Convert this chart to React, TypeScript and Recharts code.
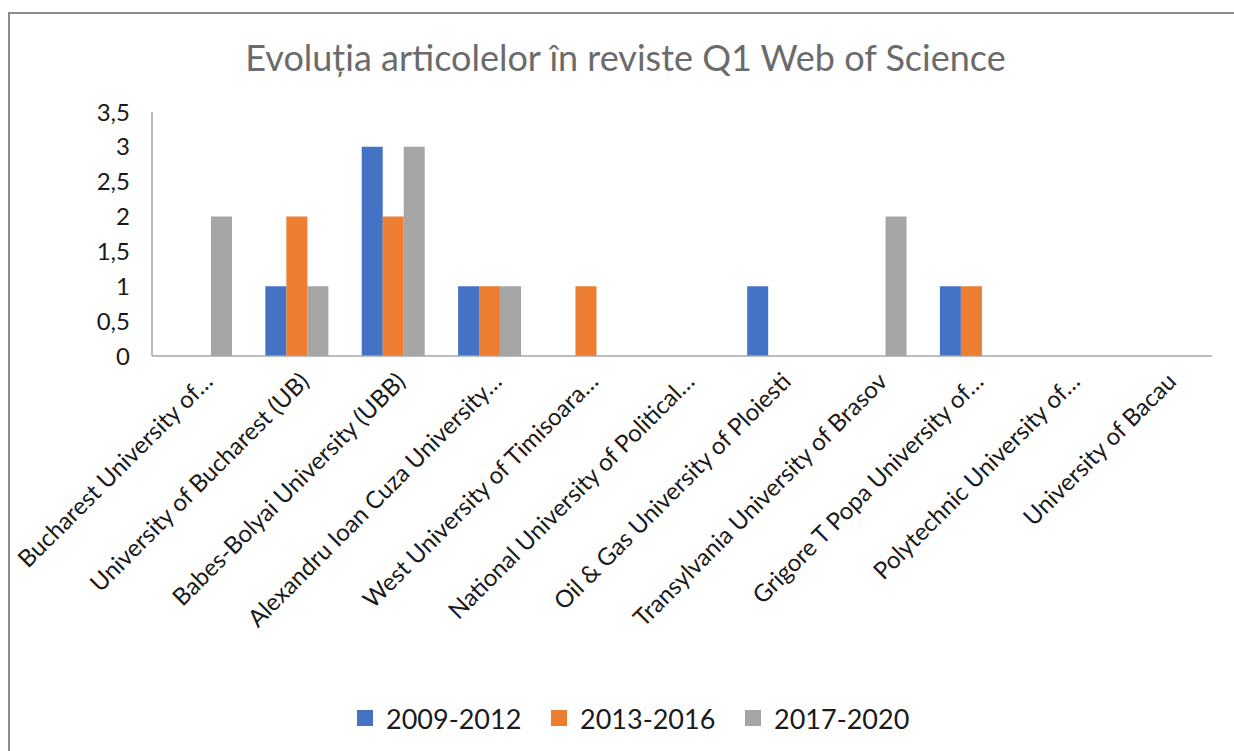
import React from "react";
import { BarChart, Bar, XAxis, YAxis } from "recharts";

const categories = [
  "Bucharest University of…",
  "University of Bucharest (UB)",
  "Babes-Bolyai University (UBB)",
  "Alexandru Ioan Cuza University…",
  "West University of Timisoara…",
  "National University of Political…",
  "Oil & Gas University of Ploiesti",
  "Transylvania University of Brasov",
  "Grigore T Popa University of…",
  "Polytechnic University of…",
  "University of Bacau",
];

const series2009_2012 = [0, 1, 3, 1, 0, 0, 1, 0, 1, 0, 0];
const series2013_2016 = [0, 2, 2, 1, 1, 0, 0, 0, 1, 0, 0];
const series2017_2020 = [2, 1, 3, 1, 0, 0, 0, 2, 0, 0, 0];

const seriesNames = ["2009-2012", "2013-2016", "2017-2020"];
const seriesColors = ["#4472C4", "#ED7D31", "#A5A5A5"];
const yTicks = [0, 0.5, 1, 1.5, 2, 2.5, 3, 3.5];
const title = "Evoluția articolelor în reviste Q1 Web of Science";

const data = categories.map((name, i) => ({
  name,
  s0: series2009_2012[i],
  s1: series2013_2016[i],
  s2: series2017_2020[i],
}));

const FONT = "Lato, 'Open Sans', sans-serif";

const XTick = (props: any) => {
  const { x, y, payload } = props;
  const tx = x + 14;
  const ty = y + 27;
  return (
    <text
      x={tx}
      y={ty}
      transform={`rotate(-45, ${tx}, ${ty})`}
      textAnchor="end"
      fontSize={24}
      fontFamily={FONT}
      fill="#1a1a1a"
    >
      {payload.value}
    </text>
  );
};

export default function App() {
  return (
    <div
      style={{
        position: "fixed",
        left: 0,
        top: 0,
        width: 1234,
        height: 751,
        background: "#fff",
        fontFamily: FONT,
        overflow: "hidden",
      }}
    >
      <div
        style={{
          position: "absolute",
          left: 8,
          top: 12,
          width: 1226,
          height: 739,
          borderLeft: "2px solid #8c8c8c",
          borderTop: "2px solid #8c8c8c",
          boxSizing: "border-box",
        }}
      />
      <div
        style={{
          position: "absolute",
          left: 0,
          width: 1251,
          top: 34,
          textAlign: "center",
          fontSize: 36,
          color: "#6b6b6b",
          lineHeight: "46px",
          whiteSpace: "nowrap",
        }}
      >
        {title}
      </div>
      <div style={{ position: "absolute", left: 0, top: 0 }}>
        <BarChart
          width={1234}
          height={751}
          data={data}
          margin={{ top: 112, right: 22, left: 0, bottom: 0 }}
          barGap={0}
          barSize={21}
        >
          <YAxis
            domain={[0, 3.5]}
            ticks={yTicks}
            width={152}
            tickLine={false}
            tickSize={0}
            tickMargin={22}
            axisLine={{ stroke: "#a6a6a6", strokeWidth: 1.5 }}
            tick={{ fontSize: 24, fill: "#1a1a1a", fontFamily: FONT }}
            tickFormatter={(v: number) => String(v).replace(".", ",")}
            interval={0}
          />
          <XAxis
            dataKey="name"
            height={395}
            interval={0}
            tickLine={false}
            tickSize={0}
            tickMargin={0}
            axisLine={{ stroke: "#a6a6a6", strokeWidth: 1.5 }}
            tick={<XTick />}
          />
          <Bar dataKey="s0" name={seriesNames[0]} fill={seriesColors[0]} isAnimationActive={false} />
          <Bar dataKey="s1" name={seriesNames[1]} fill={seriesColors[1]} isAnimationActive={false} />
          <Bar dataKey="s2" name={seriesNames[2]} fill={seriesColors[2]} isAnimationActive={false} />
        </BarChart>
      </div>
      <div
        style={{
          position: "absolute",
          top: 699,
          left: 357,
          height: 38,
          fontSize: 27,
          color: "#1a1a1a",
        }}
      >
        {seriesNames.map((n, i) => (
          <div
            key={n}
            style={{
              position: "absolute",
              left: i * 194,
              top: 0,
              height: 38,
              display: "flex",
              alignItems: "center",
              whiteSpace: "nowrap",
            }}
          >
            <div style={{ width: 16, height: 16, background: seriesColors[i], marginRight: 13 }} />
            <span>{n}</span>
          </div>
        ))}
      </div>
    </div>
  );
}
